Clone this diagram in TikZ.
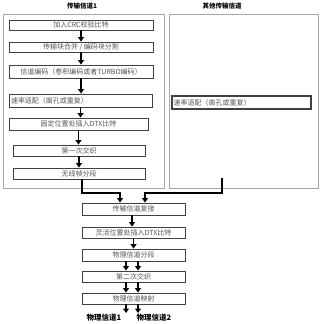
\documentclass[tikz,border=0pt]{standalone}
\usepackage{fontspec}
\usepackage{tikz}
\usetikzlibrary{arrows.meta,positioning,calc}
\setmainfont{Noto Sans CJK SC}
\newfontfamily\cjk{Noto Sans CJK SC}
\definecolor{chFrame}{HTML}{A8A8A8}
\definecolor{chBorder}{HTML}{404040}
\definecolor{chText}{HTML}{555555}

\begin{document}
\begin{tikzpicture}[x=1pt,y=-1pt,
    stepbox/.style={draw=chBorder, line width=0.9pt, fill=white, inner sep=0pt,
      minimum height=11pt, font=\cjk\fontsize{7}{8}\selectfont, text=chText},
    chframe/.style={draw=chFrame, line width=0.8pt},
    flow/.style={line width=1.3pt, -{Triangle[width=6pt,length=4.5pt]}},
    title/.style={font=\cjk\bfseries\fontsize{6.5}{7}\selectfont, text=black},
    outlabel/.style={font=\cjk\bfseries\fontsize{7.5}{8}\selectfont, text=black}
  ]
    \useasboundingbox (0,0) rectangle (320,324);
    \draw[chframe] (3,14) rectangle (164,188);
    \draw[chframe] (169,14) rectangle (318,188);
    \node[title] (tch) at (82,6) {传输信道1};
    \node[title] (och) at (222,6) {其他传输信道};

    \node[stepbox, minimum width=144pt, minimum height=10pt] (crc) at (81,25) {加入CRC校验比特};
    \node[stepbox, minimum width=144pt, minimum height=10pt] (seg) at (81,47) {传输块合并 / 编码块分割};
    \node[stepbox, minimum width=144pt, minimum height=13pt] (enc) at (81,71.5) {信道编码（卷积编码或者TURBO编码）};
    \node[stepbox, minimum width=143pt, minimum height=13pt, text width=139pt, align=left] (rm) at (80.5,100.5) {速率适配（凿孔或重复）};
    \node[stepbox, minimum width=139pt, minimum height=12pt] (dtx) at (78.5,124) {固定位置处插入DTX比特};
    \node[stepbox, minimum width=132pt] (il) at (79,150.5) {第一次交织};
    \node[stepbox, minimum width=132pt] (fr) at (79,173.5) {无线帧分段};

    \node[stepbox, line width=1.3pt, minimum width=139pt, minimum height=13pt, text width=136pt, align=left] (orm) at (241.5,102.5) {速率适配（凿孔或重复）};

    \node[stepbox, minimum width=103pt, minimum height=12pt] (mux) at (133.5,209) {传输信道复接};
    \node[stepbox, minimum width=103pt] (fdtx) at (133.5,232.5) {灵活位置处插入DTX比特};
    \node[stepbox, minimum width=103pt, minimum height=12pt] (pseg) at (133.5,255) {物理信道分段};
    \node[stepbox, minimum width=103pt] (il2) at (133.5,276.5) {第二次交织};
    \node[stepbox, minimum width=103pt] (map) at (133.5,298.5) {物理信道映射};

    \node[outlabel] (ph1) at (104,318) {物理信道1};
    \node[outlabel] (ph2) at (154,318) {物理信道2};

    \coordinate (oth) at (222,178);
    \coordinate (jl) at (82,193);
    \coordinate (jm) at (120,193);
    \coordinate (jr) at (145,193);
    \coordinate (out1) at (126,313);
    \coordinate (out2) at (138,313);

    \foreach \a/\b in {crc/seg,seg/enc,enc/rm,rm/dtx,dtx/il,il/fr}
      \draw[flow] (\a.south) -- (\a.south |- \b.north);
    \draw[flow] (fr.south -| jl) -- (jl) -- (jm) -- (mux.north -| jm);
    \draw[flow] (oth) |- (jr) -- (mux.north -| jr);
    \draw[flow] ([xshift=-1.5pt]mux.south) -- ([xshift=-1.5pt]fdtx.north);
    \draw[flow] (fdtx.south) -- (pseg.north);
    \draw[flow] ([xshift=-7.5pt]pseg.south) -- ([xshift=-7.5pt]il2.north);
    \draw[flow] ([xshift=4.5pt]pseg.south) -- ([xshift=4.5pt]il2.north);
    \draw[flow] ([xshift=-7.5pt]il2.south) -- ([xshift=-7.5pt]map.north);
    \draw[flow] ([xshift=4.5pt]il2.south) -- ([xshift=4.5pt]map.north);
    \draw[flow] (map.south -| out1) -- (out1);
    \draw[flow] (map.south -| out2) -- (out2);
  \end{tikzpicture}
\end{document}
